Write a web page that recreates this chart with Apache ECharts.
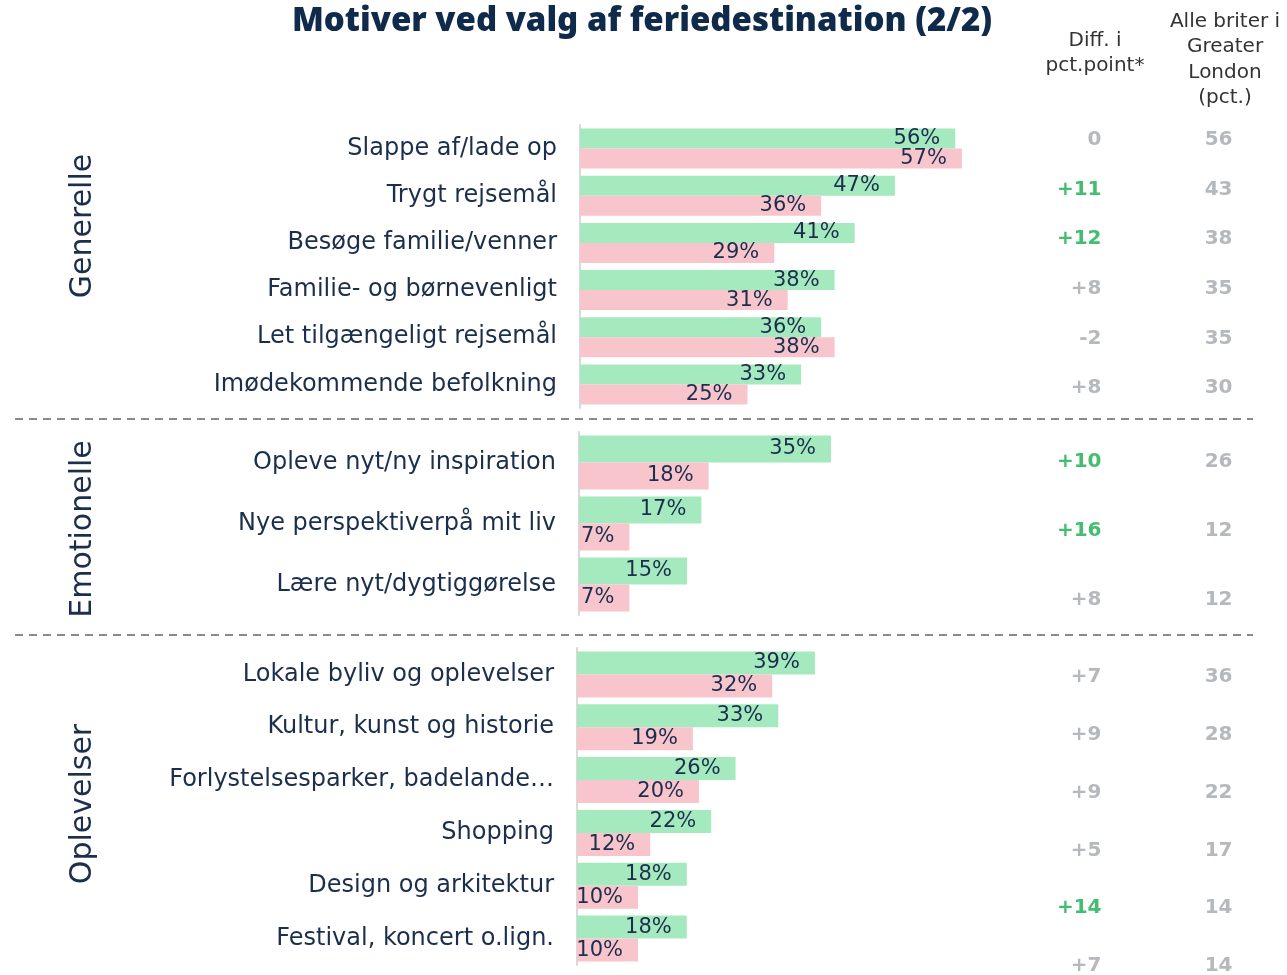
<!DOCTYPE html>
<html><head><meta charset="utf-8">
<script src="https://cdn.jsdelivr.net/npm/echarts@6/dist/echarts.min.js"></script>
<style>html,body{margin:0;padding:0;background:#fff}#c{width:1287px;height:975px}</style>
</head><body><div id="c"></div>
<script>
// ---- Data ----
const catsGen = ['Slappe af/lade op','Trygt rejsemål','Besøge familie/venner','Familie- og børnevenligt','Let tilgængeligt rejsemål','Imødekommende befolkning'];
const greenGen = [56,47,41,38,36,33];
const pinkGen = [57,36,29,31,38,25];
const diffGen = [0,11,12,8,-2,8];
const alleGen = [56,43,38,35,35,30];

const catsEmo = ['Opleve nyt/ny inspiration','Nye perspektiverpå mit liv','Lære nyt/dygtiggørelse'];
const greenEmo = [35,17,15];
const pinkEmo = [18,7,7];
const diffEmo = [10,16,8];
const alleEmo = [26,12,12];

const catsOpl = ['Lokale byliv og oplevelser','Kultur, kunst og historie','Forlystelsesparker, badelande…','Shopping','Design og arkitektur','Festival, koncert o.lign.'];
const greenOpl = [39,33,26,22,18,18];
const pinkOpl = [32,19,20,12,10,10];
const diffOpl = [7,9,9,5,14,7];
const alleOpl = [36,28,22,17,14,14];

const sections = ['Generelle','Emotionelle','Oplevelser'];
const titleText = 'Motiver ved valg af feriedestination (2/2)';
const headDiff = 'Diff. i\npct.point*';
const headAlle = 'Alle briter i\nGreater\nLondon\n(pct.)';

// ---- Styles ----
const FONT = 'DejaVu Sans';
const TFONT = 'Noto Sans';
const NAVY = '#1b2f4d';
const GREEN = '#a5eabe';
const PINK = '#f9c5cd';
const GREY = '#a3a8ad';
const SIGGREEN = '#14ad4b';

const panels = [
  {cats: catsGen, g: greenGen, p: pinkGen, d: diffGen, a: alleGen,
   grid: {left: 580, top: 125, height: 283, width: 402}, max: 60, bw: 20,
   tgrid: {left: 1102, width: 131, top: 115.2, height: 297.6}, step: 49.6},
  {cats: catsEmo, g: greenEmo, p: pinkEmo, d: diffEmo, a: alleEmo,
   grid: {left: 579, top: 432, height: 183, width: 288}, max: 40, bw: 27,
   tgrid: {left: 1102, width: 131, top: 427.5, height: 207}, step: 69},
  {cats: catsOpl, g: greenOpl, p: pinkOpl, d: diffOpl, a: alleOpl,
   grid: {left: 577, top: 648, height: 317, width: 244}, max: 40, bw: 23,
   tgrid: {left: 1102, width: 131, top: 648.1, height: 326.9}, step: 57.8}
];

const grid = [], xAxis = [], yAxis = [], series = [];
panels.forEach((P, i) => {
  grid.push(P.grid);
  xAxis.push({type: 'value', gridIndex: i, min: 0, max: P.max, show: false});
  yAxis.push({type: 'category', gridIndex: i, data: P.cats, inverse: true,
    axisLine: {show: true, lineStyle: {color: '#d9d9d9', width: 2}},
    axisTick: {show: false},
    axisLabel: {color: NAVY, fontSize: 24, fontFamily: FONT, margin: 23}});
  const lbl = {show: true, position: 'insideRight', distance: 15, color: NAVY,
    fontSize: 21, fontFamily: FONT, formatter: p => p.value + '%'};
  series.push({type: 'bar', xAxisIndex: i, yAxisIndex: i, data: P.g, barWidth: P.bw, barGap: '0%',
    itemStyle: {color: GREEN}, label: lbl, silent: true});
  series.push({type: 'bar', xAxisIndex: i, yAxisIndex: i, data: P.p, barWidth: P.bw, barGap: '0%',
    itemStyle: {color: PINK}, label: lbl, silent: true});
});
panels.forEach((P, i) => {
  const gi = 3 + i;
  grid.push(P.tgrid);
  xAxis.push({type: 'value', gridIndex: gi, min: 0, max: 1, show: false});
  yAxis.push({type: 'value', gridIndex: gi, inverse: true, min: -0.5,
    max: -0.5 + P.tgrid.height / P.step, show: false});
  const diffData = P.d.map((v, k) => ({
    value: [0, k],
    label: {formatter: (v > 0 ? '+' : '') + v, color: v >= 10 ? SIGGREEN : GREY}
  }));
  const alleData = P.a.map((v, k) => ({value: [1, k], label: {formatter: String(v)}}));
  const base = {type: 'scatter', xAxisIndex: gi, yAxisIndex: gi, symbolSize: 1, clip: false,
    itemStyle: {color: 'rgba(0,0,0,0)'}, silent: true};
  series.push(Object.assign({}, base, {data: diffData,
    label: {show: true, position: 'left', distance: 0, fontSize: 20, fontWeight: 'bold', fontFamily: FONT, color: GREY}}));
  series.push(Object.assign({}, base, {data: alleData,
    label: {show: true, position: 'left', distance: 0, fontSize: 20, fontWeight: 'bold', fontFamily: FONT, color: GREY}}));
});

const sectionY = [226, 529, 804];
const graphic = [];
sections.forEach((s, i) => {
  graphic.push({type: 'text', x: 83, y: sectionY[i], rotation: Math.PI / 2,
    style: {text: s, fill: NAVY, font: '30px "' + FONT + '"', textAlign: 'center', textVerticalAlign: 'middle'}});
});
[419, 635].forEach(y => graphic.push({type: 'line', shape: {x1: 15, y1: y, x2: 1253, y2: y},
  style: {stroke: '#8a8a8a', lineWidth: 2, lineDash: [8, 6]}}));
graphic.push({type: 'text', x: 1095, y: 28, style: {text: headDiff, fill: '#333', font: '20px "' + FONT + '"',
  textAlign: 'center', lineHeight: 25.5}});
graphic.push({type: 'text', x: 1225, y: 9, style: {text: headAlle, fill: '#333', font: '20px "' + FONT + '"',
  textAlign: 'center', lineHeight: 25.5}});

const chart = echarts.init(document.getElementById('c'));
chart.setOption({
  animation: false,
  title: {text: titleText, left: 637, top: 0, textAlign: 'center',
    textStyle: {fontSize: 33, fontWeight: 900, color: '#0f2a4a', fontFamily: TFONT}},
  grid, xAxis, yAxis, series, graphic
});
</script></body></html>
